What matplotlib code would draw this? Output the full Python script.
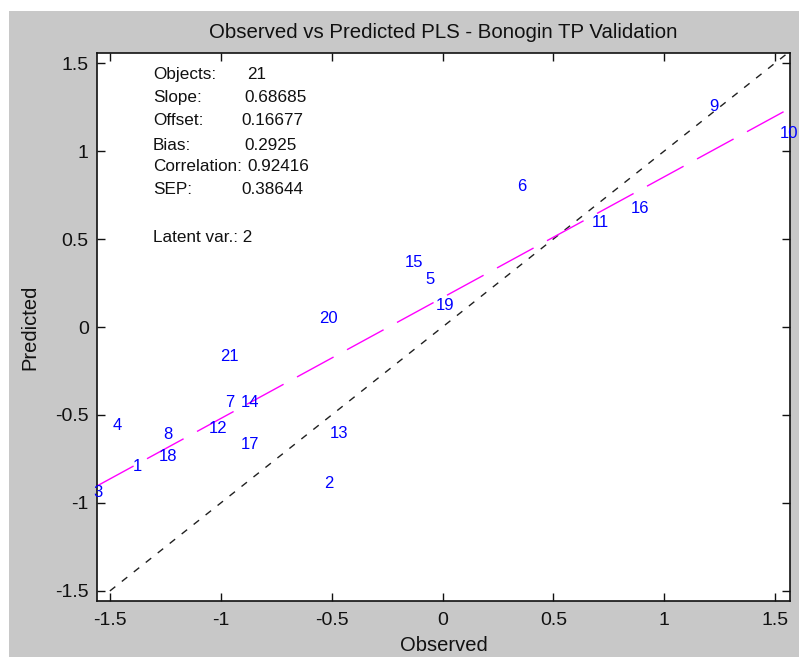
import numpy as np
import matplotlib.pyplot as plt
from matplotlib.patches import Rectangle

plt.rcParams['font.family'] = ['Liberation Sans', 'DejaVu Sans']

# sample numbers and their observed / predicted values
ids = ['1', '2', '3', '4', '5', '6', '7', '8', '9', '10', '11',
       '12', '13', '14', '15', '16', '17', '18', '19', '20', '21']
observed = [-1.398, -0.535, -1.573, -1.488, -0.076, 0.337, -0.979, -1.258,
            1.204, 1.519, 0.674, -1.052, -0.508, -0.908, -0.171, 0.849,
            -0.912, -1.281, -0.031, -0.557, -1.002]
predicted = [-0.792, -0.889, -0.940, -0.558, 0.268, 0.798, -0.427, -0.610,
             1.254, 1.100, 0.593, -0.575, -0.604, -0.427, 0.365, 0.672,
             -0.667, -0.735, 0.120, 0.046, -0.165]

# regression statistics
stat_names = ['Objects:', 'Slope:', 'Offset:', 'Bias:', 'Correlation:', 'SEP:']
stat_values = ['21', '0.68685', '0.16677', '0.2925', '0.92416', '0.38644']
latent_vars = 2
slope = 0.68685
offset = 0.16677

ticks = [-1.5, -1, -0.5, 0, 0.5, 1, 1.5]
tick_labels = ['-1.5', '-1', '-0.5', '0', '0.5', '1', '1.5']
xlim = (-1.558, 1.567)
ylim = (-1.557, 1.557)

fig = plt.figure(figsize=(7.99, 6.57), dpi=100, facecolor='white')
# grey window area (thin white strip along top and left)
fig.patches.append(Rectangle((9 / 799, 0), 1, 1 - 11 / 657, transform=fig.transFigure,
                             facecolor='#c8c8c8', edgecolor='none', zorder=-10))

ax = fig.add_axes([97 / 799, 56 / 657, 693 / 799, 548 / 657])
ax.set_facecolor('white')
ax.set_xlim(xlim)
ax.set_ylim(ylim)

# 1:1 reference line
ref = np.array([ticks[0], 1.55])
ax.plot(ref, ref, color='#202020', lw=1.0, dashes=(5, 6))

# fitted line over the full x range
xs = np.array(xlim)
ax.plot(xs, slope * xs + offset, color='#ff00ff', lw=1.0, dashes=(30, 11))

for name, x, y in zip(ids, observed, predicted):
    ax.text(x, y, name, color='#0000ff', fontsize=12, ha='left', va='center',
            clip_on=False)

# statistics block
value_x = [0.2165, 0.2121, 0.2078, 0.2121, 0.2165, 0.2078]
line_y = [0.9599, 0.9179, 0.8777, 0.8321, 0.7920, 0.7500]
for name, val, vx, ly in zip(stat_names, stat_values, value_x, line_y):
    ax.text(0.0808, ly, name, transform=ax.transAxes, fontsize=12.3,
            color='#111111', va='center', ha='left')
    ax.text(vx, ly, val, transform=ax.transAxes, fontsize=12.3,
            color='#111111', va='center', ha='left')
ax.text(0.0808, 0.6642, f'Latent var.: {latent_vars}', transform=ax.transAxes,
        fontsize=12.3, color='#111111', va='center', ha='left')

ax.set_xticks(ticks)
ax.set_xticklabels(tick_labels)
ax.set_yticks(ticks)
ax.set_yticklabels(tick_labels)
ax.tick_params(direction='in', length=6, width=1, top=True, right=True,
               labelsize=14, colors='#111111', pad=6)
ax.tick_params(axis='x', pad=8)
for sp in ax.spines.values():
    sp.set_linewidth(1.2)
    sp.set_color('#111111')

ax.set_title('Observed vs Predicted PLS - Bonogin TP Validation',
             fontsize=14.7, color='#111111', pad=11)
ax.set_xlabel('Observed', fontsize=14.5, color='#111111', labelpad=5)
ax.set_ylabel('Predicted', fontsize=14.5, color='#111111', labelpad=11)

fig.savefig('out.png', dpi=100, facecolor=fig.get_facecolor())
